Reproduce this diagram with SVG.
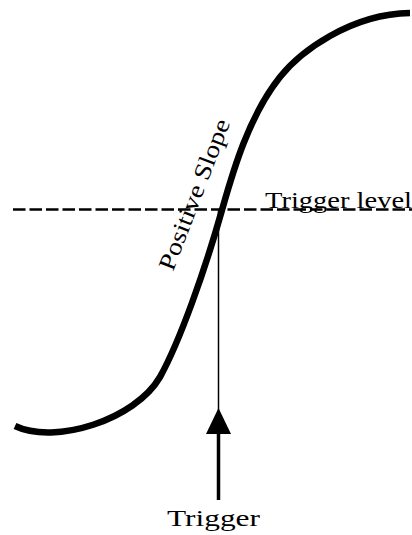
<svg xmlns="http://www.w3.org/2000/svg" width="412" height="535" viewBox="0 0 412 535">
<style>
.lbl{font-family:"Liberation Serif","DejaVu Serif",serif;font-size:24px;fill:#000}
.curve{fill:none;stroke:#000;stroke-width:6.5;stroke-linecap:butt}
.dash{stroke:#000;stroke-width:2.5;stroke-dasharray:12.5 4;fill:none}
</style>
<rect width="412" height="535" fill="#fff"/>
<g id="trigger-level">
<line class="dash" x1="13" y1="209.5" x2="412" y2="209.5"/>
<text class="lbl" x="265" y="208" textLength="147" lengthAdjust="spacingAndGlyphs">Trigger level</text>
</g>
<g id="signal">
<path class="curve" d="M15,426 C55,445 135,420 160,377 C180,341 205,270 222,210 C232,175 248,117 280,77 C300,52 350,14 410,13"/>
<text class="lbl" transform="translate(173,272) rotate(-69)" x="0" y="0" textLength="160" lengthAdjust="spacingAndGlyphs">Positive Slope</text>
</g>
<g id="connectors">
<line x1="218.5" y1="210" x2="218.5" y2="412" stroke="#000" stroke-width="1.5"/>
<line x1="218.5" y1="430" x2="218.5" y2="500" stroke="#000" stroke-width="3.5"/>
<polygon points="218.5,408 206,434 231,434" fill="#000"/>
</g>
<g id="trigger">
<text class="lbl" x="167" y="526" textLength="93" lengthAdjust="spacingAndGlyphs">Trigger</text>
</g>
</svg>
